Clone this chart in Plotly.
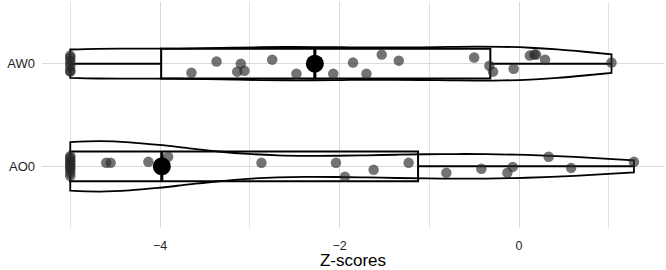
import numpy as np
import plotly.graph_objects as go

categories = ["AO0", "AW0"]
cat_pos = [1, 2]

aw0_values = [-5, -5, -5, -5, -5, -5, -5,
              -3.65, -3.37, -3.14, -3.10, -3.06, -2.75, -2.48, -2.07,
              -1.85, -1.70, -1.53, -1.34, -0.50, -0.33, -0.29, -0.06,
              0.12, 0.17, 0.19, 0.29, 1.03]
aw0_jitter = [0.078, 0.059, 0.029, 0.0, -0.029, -0.069, -0.078,
              -0.088, 0.02, -0.078, 0.0, -0.069, 0.039, -0.098, -0.098,
              0.01, -0.098, 0.088, 0.029, 0.059, -0.02, -0.078, -0.049,
              0.078, 0.088, 0.088, 0.039, 0.01]

ao0_values = [-5, -5, -5, -5, -5, -5, -5, -5, -5, -5,
              -4.60, -4.55, -4.13, -3.99, -3.97, -3.91, -2.87, -2.04,
              -1.94, -1.62, -1.23, -0.81, -0.42, -0.13, -0.07, 0.33, 0.58, 1.28]
ao0_jitter = [0.10, 0.083, 0.063, 0.044, 0.024, 0.005, -0.015, -0.034, -0.063, -0.093,
              0.034, 0.034, 0.044, 0.0, -0.024, 0.093, 0.034, 0.034,
              -0.10, -0.034, 0.034, -0.063, -0.024, -0.063, -0.005, 0.093, -0.015, 0.044]

groups = {
    "AW0": dict(values=aw0_values, jitter=aw0_jitter, pos=2, vwidth=0.33),
    "AO0": dict(values=ao0_values, jitter=ao0_jitter, pos=1, vwidth=0.49),
}

def nrd0(x):
    x = np.asarray(x, float)
    sd = x.std(ddof=1)
    iqr = np.percentile(x, 75) - np.percentile(x, 25)
    lo = min(sd, iqr / 1.34) if iqr > 0 else sd
    return 0.9 * lo * len(x) ** (-0.2)

def box_stats(x):
    x = np.asarray(x, float)
    q1, med, q3 = np.percentile(x, [25, 50, 75])
    iqr = q3 - q1
    lo = x[x >= q1 - 1.5 * iqr].min()
    hi = x[x <= q3 + 1.5 * iqr].max()
    return q1, med, q3, lo, hi

fig = go.Figure()
FONT = "Liberation Sans, Arial, sans-serif"
TXT = "#1f1f1f"

for name, g in groups.items():
    fig.add_trace(go.Violin(
        x=g["values"], y0=g["pos"], orientation="h", name=name,
        width=g["vwidth"], scalemode="width", spanmode="hard",
        bandwidth=nrd0(g["values"]),
        line=dict(color="black", width=1.8), fillcolor="rgba(255,255,255,0)",
        points=False, box_visible=False, meanline_visible=False,
        hoverinfo="skip", showlegend=False))

for name, g in groups.items():
    q1, med, q3, lo, hi = box_stats(g["values"])
    fig.add_trace(go.Box(
        y=[g["pos"]], q1=[q1], median=[med], q3=[q3],
        lowerfence=[lo], upperfence=[hi], orientation="h", name=name,
        width=0.29, boxpoints=False,
        line=dict(color="black", width=2), fillcolor="rgba(255,255,255,0)",
        whiskerwidth=0, hoverinfo="skip", showlegend=False))

for name, g in groups.items():
    ys = [g["pos"] + j for j in g["jitter"]]
    fig.add_trace(go.Scatter(
        x=g["values"], y=ys, mode="markers",
        marker=dict(size=10.5, color="rgba(40,40,40,0.65)", line=dict(width=0)),
        hoverinfo="skip", showlegend=False))

med_x = [float(np.median(g["values"])) for g in groups.values()]
med_y = [g["pos"] for g in groups.values()]
fig.add_trace(go.Scatter(
    x=med_x, y=med_y, mode="markers",
    marker=dict(size=18, color="black", line=dict(width=0)),
    hoverinfo="skip", showlegend=False))
for mx, my in zip(med_x, med_y):
    fig.add_trace(go.Scatter(
        x=[mx, mx], y=[my - 0.145, my + 0.145], mode="lines",
        line=dict(color="black", width=3), hoverinfo="skip", showlegend=False))

fig.update_layout(
    width=666, height=270,
    margin=dict(l=42, r=2, t=2, b=42),
    paper_bgcolor="white", plot_bgcolor="white",
    font=dict(family=FONT, color=TXT),
    xaxis=dict(
        range=[-5.315, 1.615], tickmode="linear", tick0=0, dtick=2,
        showgrid=True, gridcolor="#d9d9d9", gridwidth=1.2, zeroline=False,
        minor=dict(dtick=1, tick0=0, showgrid=True, gridcolor="#e3e3e3", gridwidth=1),
        tickfont=dict(size=12.5, color=TXT), ticks="", ticklabelstandoff=8,
        title=dict(text="Z-scores", font=dict(size=17, color="black"), standoff=5),
        showline=False,
    ),
    yaxis=dict(
        range=[0.4, 2.6], tickmode="array", tickvals=cat_pos, ticktext=categories,
        showgrid=True, gridcolor="#d9d9d9", gridwidth=1.2, zeroline=False,
        tickfont=dict(size=13, color=TXT), ticks="", ticklabelstandoff=6,
        showline=False,
    ),
)

fig.write_html("out.html")
